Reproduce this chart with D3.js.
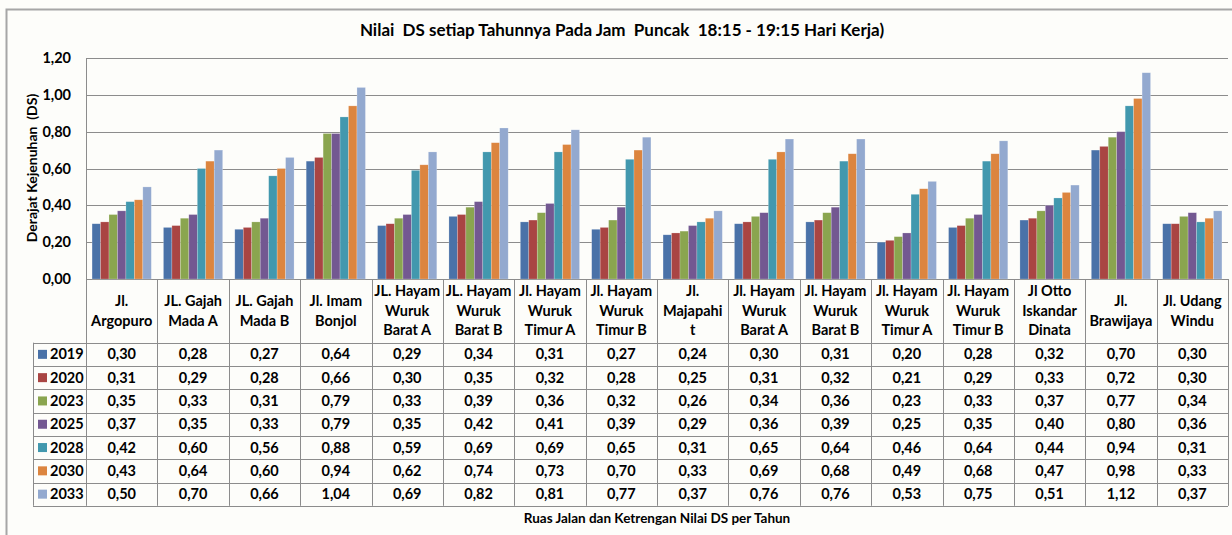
<!DOCTYPE html>
<html>
<head>
<meta charset="utf-8">
<script src="https://cdn.jsdelivr.net/npm/d3@7"></script>
<style>
  body { margin: 0; background: #fff; }
  svg { display: block; font-family: Lato, "Open Sans", sans-serif; font-weight: bold; }
</style>
</head>
<body>
<div id="chart"></div>
<script>
// data
var categories = [
  ["Jl.", "Argopuro"],
  ["JL. Gajah", "Mada A"],
  ["JL. Gajah", "Mada B"],
  ["Jl. Imam", "Bonjol"],
  ["JL. Hayam", "Wuruk", "Barat A"],
  ["JL. Hayam", "Wuruk", "Barat B"],
  ["Jl. Hayam", "Wuruk", "Timur A"],
  ["Jl. Hayam", "Wuruk", "Timur B"],
  ["Jl.", "Majapahi", "t"],
  ["Jl. Hayam", "Wuruk", "Barat A"],
  ["Jl. Hayam", "Wuruk", "Barat B"],
  ["Jl. Hayam", "Wuruk", "Timur A"],
  ["Jl. Hayam", "Wuruk", "Timur B"],
  ["Jl Otto", "Iskandar", "Dinata"],
  ["Jl.", "Brawijaya"],
  ["Jl. Udang", "Windu"]
];
var years = ["2019", "2020", "2023", "2025", "2028", "2030", "2033"];
var ds2019 = [0.30, 0.28, 0.27, 0.64, 0.29, 0.34, 0.31, 0.27, 0.24, 0.30, 0.31, 0.20, 0.28, 0.32, 0.70, 0.30];
var ds2020 = [0.31, 0.29, 0.28, 0.66, 0.30, 0.35, 0.32, 0.28, 0.25, 0.31, 0.32, 0.21, 0.29, 0.33, 0.72, 0.30];
var ds2023 = [0.35, 0.33, 0.31, 0.79, 0.33, 0.39, 0.36, 0.32, 0.26, 0.34, 0.36, 0.23, 0.33, 0.37, 0.77, 0.34];
var ds2025 = [0.37, 0.35, 0.33, 0.79, 0.35, 0.42, 0.41, 0.39, 0.29, 0.36, 0.39, 0.25, 0.35, 0.40, 0.80, 0.36];
var ds2028 = [0.42, 0.60, 0.56, 0.88, 0.59, 0.69, 0.69, 0.65, 0.31, 0.65, 0.64, 0.46, 0.64, 0.44, 0.94, 0.31];
var ds2030 = [0.43, 0.64, 0.60, 0.94, 0.62, 0.74, 0.73, 0.70, 0.33, 0.69, 0.68, 0.49, 0.68, 0.47, 0.98, 0.33];
var ds2033 = [0.50, 0.70, 0.66, 1.04, 0.69, 0.82, 0.81, 0.77, 0.37, 0.76, 0.76, 0.53, 0.75, 0.51, 1.12, 0.37];
var yTicks = [0, 0.2, 0.4, 0.6, 0.8, 1.0, 1.2];

var series = [ds2019, ds2020, ds2023, ds2025, ds2028, ds2030, ds2033];
var colors = ["#4a72a8", "#a94543", "#8aa54f", "#735891", "#4298ae", "#dc853f", "#93a9cf"];

var W = 1232, H = 535;
var plotLeft = 86, plotRight = 1228, plotTop = 58, base = 279;
var tableTop = 342.7, rowH = 23.3;

var fmt = function(v) { return v.toFixed(2).replace(".", ","); };

var svg = d3.select("#chart").append("svg")
  .attr("width", W).attr("height", H);

svg.append("rect").attr("width", W).attr("height", H).attr("fill", "#fdfdfa");

// outer chart border
svg.append("path")
  .attr("d", "M6.5," + (H + 2) + "V9.5H" + (W + 2))
  .attr("fill", "none").attr("stroke", "#a6a6a6").attr("stroke-width", 2);

// scales
var x0 = d3.scaleBand().domain(d3.range(categories.length))
  .range([plotLeft, plotRight]).paddingInner(0.17).paddingOuter(0.085);
var x1 = d3.scaleBand().domain(d3.range(years.length)).range([0, x0.bandwidth()]);
var y = d3.scaleLinear().domain([0, 1.2]).range([base, plotTop]);
var step = x0.step();

// gridlines
svg.append("g").selectAll("line").data(yTicks).join("line")
  .attr("x1", plotLeft).attr("x2", plotRight)
  .attr("y1", d => Math.round(y(d)) + 0.5).attr("y2", d => Math.round(y(d)) + 0.5)
  .attr("stroke", "#8c8c8c").attr("stroke-width", 1);

// y axis
var yAxis = svg.append("g").attr("transform", "translate(" + plotLeft + ",0)")
  .call(d3.axisLeft(y).tickValues(yTicks).tickFormat(fmt).tickSize(0).tickPadding(15));
yAxis.select(".domain").attr("stroke", "#8c8c8c");
yAxis.selectAll("text").attr("font-family", "Lato, sans-serif").attr("font-weight", "bold")
  .attr("font-size", 14.5).attr("fill", "#000");

// bars
var groups = svg.append("g").selectAll("g").data(categories).join("g")
  .attr("transform", (d, i) => "translate(" + x0(i) + ",0)");
groups.selectAll("rect")
  .data((d, i) => series.map((s, k) => ({ k: k, v: s[i] })))
  .join("rect")
  .attr("x", d => x1(d.k))
  .attr("width", x1.bandwidth())
  .attr("y", d => y(d.v))
  .attr("height", d => base - y(d.v))
  .attr("fill", d => colors[d.k])
  .attr("stroke", "rgba(255,255,255,0.35)").attr("stroke-width", 0.6);

// data table lines
var tableBottom = tableTop + rowH * years.length;
var tl = svg.append("g").attr("stroke", "#8c8c8c").attr("stroke-width", 1);
tl.selectAll("line.v").data(d3.range(categories.length + 1)).join("line")
  .attr("class", "v")
  .attr("x1", i => Math.round(plotLeft + i * step) + 0.5).attr("x2", i => Math.round(plotLeft + i * step) + 0.5)
  .attr("y1", base).attr("y2", tableBottom);
tl.selectAll("line.h").data(d3.range(years.length + 1)).join("line")
  .attr("class", "h")
  .attr("x1", 33).attr("x2", plotRight)
  .attr("y1", r => Math.round(tableTop + r * rowH) + 0.5).attr("y2", r => Math.round(tableTop + r * rowH) + 0.5);
tl.append("line").attr("x1", 33.5).attr("x2", 33.5).attr("y1", tableTop).attr("y2", tableBottom);

// header labels
var headMid = (base + tableTop) / 2;
svg.append("g").selectAll("text").data(categories).join("text")
  .attr("text-anchor", "middle").attr("font-size", 14.5).attr("fill", "#000")
  .each(function(lines, i) {
    var t = d3.select(this);
    var cx = plotLeft + (i + 0.5) * step;
    lines.forEach(function(line, j) {
      t.append("tspan").attr("x", cx)
        .attr("y", headMid + (j - (lines.length - 1) / 2) * 19.5 + 5)
        .text(line);
    });
  });

// legend keys and values
years.forEach(function(yr, k) {
  var cy = tableTop + (k + 0.5) * rowH;
  svg.append("rect").attr("x", 38).attr("y", cy - 4.5).attr("width", 9).attr("height", 9)
    .attr("fill", colors[k]);
  svg.append("text").attr("x", 50).attr("y", cy + 5).attr("font-size", 14.5).text(yr);
  svg.append("g").selectAll("text").data(series[k]).join("text")
    .attr("x", (d, i) => plotLeft + (i + 0.5) * step)
    .attr("y", cy + 5)
    .attr("text-anchor", "middle").attr("font-size", 14.5)
    .text(fmt);
});

// titles
svg.append("text").attr("x", 622).attr("y", 36).attr("text-anchor", "middle")
  .attr("font-size", 17).style("white-space", "pre")
  .text("Nilai  DS setiap Tahunnya Pada Jam  Puncak  18:15 - 19:15 Hari Kerja)");

svg.append("text").attr("transform", "translate(37,168) rotate(-90)")
  .attr("text-anchor", "middle").attr("font-size", 14).style("white-space", "pre")
  .text("Derajat Kejenuhan  (DS)");

svg.append("text").attr("x", (plotLeft + plotRight) / 2).attr("y", 523).attr("text-anchor", "middle")
  .attr("font-size", 13.5).text("Ruas Jalan dan Ketrengan Nilai DS per Tahun");
</script>
</body>
</html>
